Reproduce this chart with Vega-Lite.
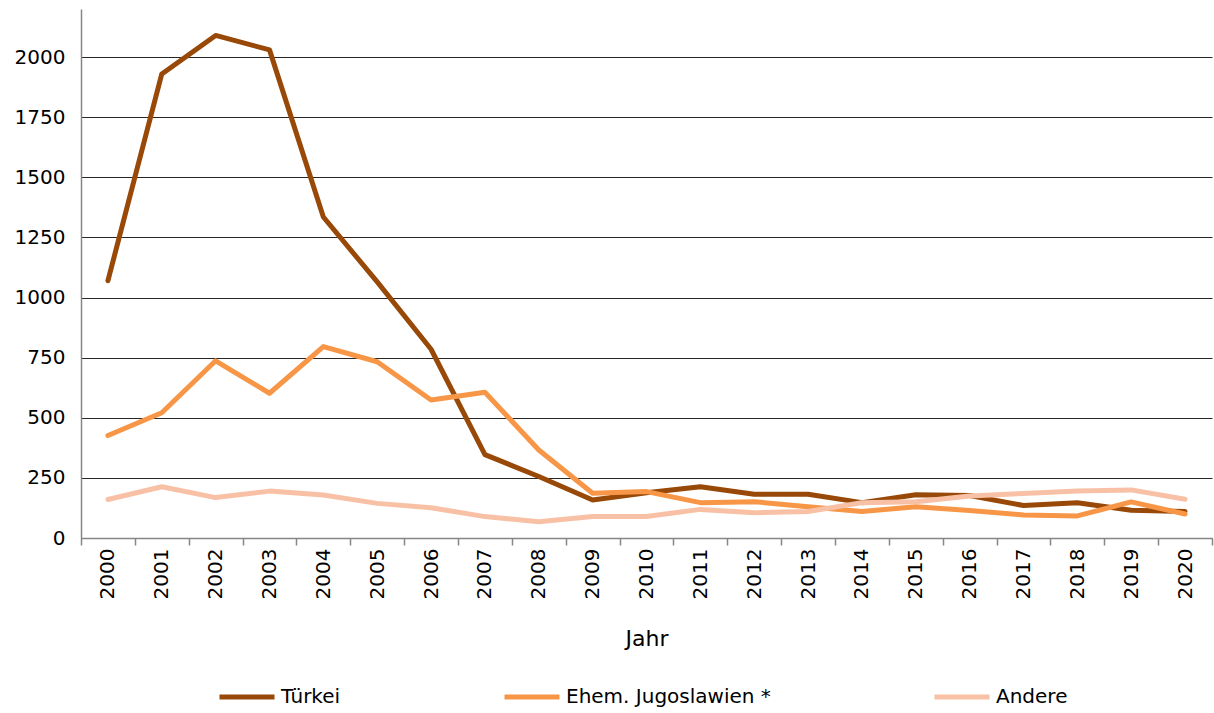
{
  "$schema": "https://vega.github.io/schema/vega-lite/v6.json",
  "width": 1131,
  "height": 529,
  "autosize": {"type": "none"},
  "padding": {"left": 81, "top": 9, "right": 2, "bottom": 175},
  "background": "white",
  "config": {
    "view": {"stroke": null},
    "font": "DejaVu Sans",
    "axis": {"labelFont": "DejaVu Sans", "titleFont": "DejaVu Sans", "labelColor": "#000", "titleColor": "#000"}
  },
  "data": {
    "values": [
      {"Jahr": "2000", "Gruppe": "Türkei", "Wert": 1070},
      {"Jahr": "2001", "Gruppe": "Türkei", "Wert": 1930},
      {"Jahr": "2002", "Gruppe": "Türkei", "Wert": 2090},
      {"Jahr": "2003", "Gruppe": "Türkei", "Wert": 2030},
      {"Jahr": "2004", "Gruppe": "Türkei", "Wert": 1335},
      {"Jahr": "2005", "Gruppe": "Türkei", "Wert": 1065},
      {"Jahr": "2006", "Gruppe": "Türkei", "Wert": 785},
      {"Jahr": "2007", "Gruppe": "Türkei", "Wert": 347},
      {"Jahr": "2008", "Gruppe": "Türkei", "Wert": 256},
      {"Jahr": "2009", "Gruppe": "Türkei", "Wert": 158},
      {"Jahr": "2010", "Gruppe": "Türkei", "Wert": 188},
      {"Jahr": "2011", "Gruppe": "Türkei", "Wert": 213},
      {"Jahr": "2012", "Gruppe": "Türkei", "Wert": 182},
      {"Jahr": "2013", "Gruppe": "Türkei", "Wert": 182},
      {"Jahr": "2014", "Gruppe": "Türkei", "Wert": 147},
      {"Jahr": "2015", "Gruppe": "Türkei", "Wert": 180},
      {"Jahr": "2016", "Gruppe": "Türkei", "Wert": 177},
      {"Jahr": "2017", "Gruppe": "Türkei", "Wert": 135},
      {"Jahr": "2018", "Gruppe": "Türkei", "Wert": 147},
      {"Jahr": "2019", "Gruppe": "Türkei", "Wert": 115},
      {"Jahr": "2020", "Gruppe": "Türkei", "Wert": 110},
      {"Jahr": "2000", "Gruppe": "Ehem. Jugoslawien *", "Wert": 426},
      {"Jahr": "2001", "Gruppe": "Ehem. Jugoslawien *", "Wert": 521},
      {"Jahr": "2002", "Gruppe": "Ehem. Jugoslawien *", "Wert": 737},
      {"Jahr": "2003", "Gruppe": "Ehem. Jugoslawien *", "Wert": 602},
      {"Jahr": "2004", "Gruppe": "Ehem. Jugoslawien *", "Wert": 796},
      {"Jahr": "2005", "Gruppe": "Ehem. Jugoslawien *", "Wert": 733},
      {"Jahr": "2006", "Gruppe": "Ehem. Jugoslawien *", "Wert": 574},
      {"Jahr": "2007", "Gruppe": "Ehem. Jugoslawien *", "Wert": 606},
      {"Jahr": "2008", "Gruppe": "Ehem. Jugoslawien *", "Wert": 366},
      {"Jahr": "2009", "Gruppe": "Ehem. Jugoslawien *", "Wert": 186},
      {"Jahr": "2010", "Gruppe": "Ehem. Jugoslawien *", "Wert": 193},
      {"Jahr": "2011", "Gruppe": "Ehem. Jugoslawien *", "Wert": 147},
      {"Jahr": "2012", "Gruppe": "Ehem. Jugoslawien *", "Wert": 151},
      {"Jahr": "2013", "Gruppe": "Ehem. Jugoslawien *", "Wert": 130},
      {"Jahr": "2014", "Gruppe": "Ehem. Jugoslawien *", "Wert": 110},
      {"Jahr": "2015", "Gruppe": "Ehem. Jugoslawien *", "Wert": 130},
      {"Jahr": "2016", "Gruppe": "Ehem. Jugoslawien *", "Wert": 114},
      {"Jahr": "2017", "Gruppe": "Ehem. Jugoslawien *", "Wert": 96},
      {"Jahr": "2018", "Gruppe": "Ehem. Jugoslawien *", "Wert": 92},
      {"Jahr": "2019", "Gruppe": "Ehem. Jugoslawien *", "Wert": 150},
      {"Jahr": "2020", "Gruppe": "Ehem. Jugoslawien *", "Wert": 100},
      {"Jahr": "2000", "Gruppe": "Andere", "Wert": 160},
      {"Jahr": "2001", "Gruppe": "Andere", "Wert": 213},
      {"Jahr": "2002", "Gruppe": "Andere", "Wert": 168},
      {"Jahr": "2003", "Gruppe": "Andere", "Wert": 195},
      {"Jahr": "2004", "Gruppe": "Andere", "Wert": 179},
      {"Jahr": "2005", "Gruppe": "Andere", "Wert": 144},
      {"Jahr": "2006", "Gruppe": "Andere", "Wert": 126},
      {"Jahr": "2007", "Gruppe": "Andere", "Wert": 89},
      {"Jahr": "2008", "Gruppe": "Andere", "Wert": 68},
      {"Jahr": "2009", "Gruppe": "Andere", "Wert": 89},
      {"Jahr": "2010", "Gruppe": "Andere", "Wert": 89},
      {"Jahr": "2011", "Gruppe": "Andere", "Wert": 119},
      {"Jahr": "2012", "Gruppe": "Andere", "Wert": 105},
      {"Jahr": "2013", "Gruppe": "Andere", "Wert": 110},
      {"Jahr": "2014", "Gruppe": "Andere", "Wert": 147},
      {"Jahr": "2015", "Gruppe": "Andere", "Wert": 151},
      {"Jahr": "2016", "Gruppe": "Andere", "Wert": 175},
      {"Jahr": "2017", "Gruppe": "Andere", "Wert": 185},
      {"Jahr": "2018", "Gruppe": "Andere", "Wert": 195},
      {"Jahr": "2019", "Gruppe": "Andere", "Wert": 200},
      {"Jahr": "2020", "Gruppe": "Andere", "Wert": 161}
    ]
  },
  "mark": {"type": "line", "strokeWidth": 5, "strokeCap": "round", "strokeJoin": "round"},
  "encoding": {
    "x": {
      "field": "Jahr",
      "type": "ordinal",
      "bandPosition": 0.5,
      "scale": {"type": "band", "paddingInner": 0, "paddingOuter": 0},
      "axis": {
        "title": "Jahr",
        "titleFontSize": 22,
        "titleFontWeight": "normal",
        "titlePadding": 30,
        "labelAngle": 270,
        "labelAlign": "right",
        "labelBaseline": "middle",
        "labelFontSize": 20,
        "labelPadding": 3,
        "tickBand": "extent",
        "tickSize": 7,
        "tickColor": "#868686",
        "tickWidth": 1.5,
        "domainColor": "#868686",
        "domainWidth": 1.5,
        "grid": false
      }
    },
    "y": {
      "field": "Wert",
      "type": "quantitative",
      "scale": {"domain": [0, 2200], "nice": false},
      "axis": {
        "title": null,
        "format": "d",
        "values": [0, 250, 500, 750, 1000, 1250, 1500, 1750, 2000],
        "labelFontSize": 20,
        "labelPadding": 16,
        "ticks": false,
        "grid": true,
        "gridColor": "#000",
        "gridWidth": 1,
        "gridOpacity": 0.85,
        "domainColor": "#868686",
        "domainWidth": 1.5
      }
    },
    "color": {
      "field": "Gruppe",
      "type": "nominal",
      "sort": ["Türkei", "Ehem. Jugoslawien *", "Andere"],
      "scale": {"domain": ["Türkei", "Ehem. Jugoslawien *", "Andere"], "range": ["#984807", "#F79646", "#F8C1A6"]},
      "legend": {
        "title": null,
        "orient": "none",
        "direction": "horizontal",
        "legendX": 136,
        "legendY": 658,
        "symbolType": "stroke",
        "symbolStrokeWidth": 5,
        "symbolSize": 3025,
        "labelFontSize": 20,
        "labelColor": "#000",
        "labelOffset": 4,
        "columnPadding": 153,
        "labelLimit": 400
      }
    }
  }
}
